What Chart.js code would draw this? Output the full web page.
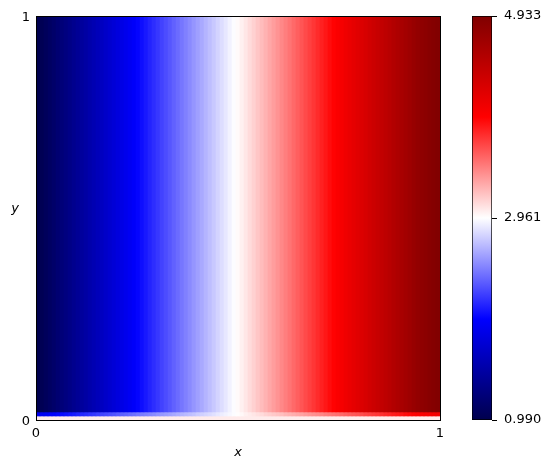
<!DOCTYPE html>
<html>
<head>
<meta charset="utf-8">
<script src="https://cdn.jsdelivr.net/npm/chart.js@4/dist/chart.umd.min.js"></script>
<style>
html,body{margin:0;padding:0;background:#fff;}
#wrap{position:relative;width:551px;height:470px;}
#main{position:absolute;left:0;top:0;}
#cbar{position:absolute;left:440px;top:0;}
</style>
</head>
<body>
<div id="wrap">
<canvas id="main" width="551" height="470"></canvas>
<canvas id="cbar" width="111" height="470"></canvas>
</div>
<script>
// ---- data ----
// column values (left -> right), main body of the field
const columnValues = [
1.00,1.03,1.07,1.11,1.15,1.19,1.23,1.27,1.31,1.35,
1.39,1.43,1.47,1.51,1.55,1.59,1.63,1.67,1.71,1.75,
1.79,1.83,1.87,1.91,1.95,1.99,2.03,2.07,2.11,2.15,
2.19,2.23,2.27,2.31,2.35,2.39,2.43,2.47,2.51,2.55,
2.59,2.63,2.67,2.71,2.75,2.79,2.83,2.87,2.91,2.95,
2.98,3.02,3.06,3.10,3.14,3.18,3.22,3.26,3.30,3.34,
3.38,3.42,3.46,3.50,3.54,3.58,3.62,3.66,3.70,3.74,
3.78,3.82,3.86,3.90,3.94,3.98,4.02,4.06,4.10,4.14,
4.18,4.22,4.26,4.30,4.34,4.38,4.42,4.46,4.50,4.54,
4.58,4.62,4.66,4.70,4.74,4.78,4.81,4.84,4.87,4.89,
4.91
];
// second row from the bottom
const nearBottomRow = [
1.88,1.90,1.92,1.94,1.96,1.99,2.01,2.03,2.05,2.07,
2.10,2.12,2.14,2.16,2.18,2.21,2.23,2.25,2.27,2.29,
2.32,2.34,2.36,2.38,2.40,2.43,2.45,2.47,2.49,2.51,
2.54,2.56,2.58,2.60,2.62,2.65,2.67,2.69,2.71,2.73,
2.76,2.78,2.80,2.82,2.84,2.87,2.89,2.91,2.93,2.95,
2.97,2.99,3.02,3.04,3.06,3.08,3.10,3.13,3.15,3.17,
3.19,3.21,3.24,3.26,3.28,3.30,3.32,3.35,3.37,3.39,
3.41,3.43,3.46,3.48,3.50,3.52,3.54,3.57,3.59,3.61,
3.63,3.65,3.68,3.70,3.72,3.74,3.76,3.79,3.81,3.83,
3.85,3.87,3.90,3.92,3.94,3.96,3.98,3.99,4.01,4.02,
4.03
];
// bottom boundary row (pale pink strip)
const bottomRow = [
3.04,3.04,3.04,3.04,3.04,3.04,3.04,3.04,3.04,3.04,
3.04,3.04,3.04,3.04,3.04,3.04,3.04,3.04,3.04,3.04,
3.04,3.04,3.04,3.04,3.04,3.04,3.04,3.04,3.04,3.04,
3.04,3.04,3.04,3.04,3.04,3.04,3.04,3.04,3.04,3.04,
3.04,3.04,3.04,3.04,3.04,3.04,3.04,3.04,3.04,3.04,
3.04,3.04,3.04,3.04,3.04,3.04,3.04,3.04,3.04,3.04,
3.04,3.04,3.04,3.04,3.04,3.04,3.04,3.04,3.04,3.04,
3.04,3.04,3.04,3.04,3.04,3.04,3.04,3.04,3.04,3.04,
3.04,3.04,3.04,3.04,3.04,3.04,3.04,3.04,3.04,3.04,
3.04,3.04,3.04,3.04,3.04,3.04,3.04,3.04,3.04,3.04,
3.04
];
const gridRows = 101;
const xTicks = [0, 1];
const yTicks = [0, 1];
const colorbarTicks = [0.990, 2.961, 4.933];
const xLabel = 'x';
const yLabel = 'y';

// ---- seismic colormap ----
const vmin = colorbarTicks[0], vmax = colorbarTicks[colorbarTicks.length - 1];
const seismicStops = [[0,0,76.5],[0,0,255],[255,255,255],[255,0,0],[127.5,0,0]];
function seismic(v) {
  let t = (v - vmin) / (vmax - vmin);
  t = Math.max(0, Math.min(1, t));
  const s = t * 4;
  const i = Math.min(3, Math.floor(s));
  const f = s - i;
  const a = seismicStops[i], b = seismicStops[i + 1];
  const c = a.map((x, k) => Math.round(x + (b[k] - x) * f));
  return `rgb(${c[0]},${c[1]},${c[2]})`;
}

Chart.defaults.font.family = "'DejaVu Sans', sans-serif";
Chart.defaults.font.size = 13;
Chart.defaults.color = '#000';

const nCols = columnValues.length;
function band(values, lo, hi) {
  return {
    data: values.map((v, i) => ({ x: (i + 0.5) / nCols, y: [lo, hi] })),
    backgroundColor: values.map(seismic),
    borderWidth: 0,
    grouped: false,
    barPercentage: 1,
    categoryPercentage: 1
  };
}

const yTitlePlugin = {
  id: 'yTitle',
  afterDraw(chart) {
    const ctx = chart.ctx;
    ctx.save();
    ctx.font = "italic 13px 'DejaVu Sans', sans-serif";
    ctx.fillStyle = '#000';
    ctx.textAlign = 'center';
    ctx.textBaseline = 'middle';
    ctx.fillText(yLabel, 15, 209);
    ctx.restore();
  }
};

const fixedSize = (w, h) => (scale) => {
  if (w !== null) scale.width = w;
  if (h !== null) scale.height = h;
};

new Chart(document.getElementById('main'), {
  type: 'bar',
  data: {
    datasets: [
      band(columnValues, 2 / gridRows, 1),
      band(nearBottomRow, 1 / gridRows, 2 / gridRows),
      band(bottomRow, 0, 1 / gridRows)
    ]
  },
  plugins: [yTitlePlugin],
  options: {
    responsive: false,
    animation: false,
    devicePixelRatio: 1,
    layout: { padding: { left: 0, right: 111, top: 16, bottom: 0 } },
    plugins: { legend: { display: false }, tooltip: { enabled: false } },
    scales: {
      x: {
        type: 'linear', position: 'bottom', min: 0, max: 1, offset: false,
        afterBuildTicks: (s) => { s.ticks = xTicks.map(v => ({ value: v })); },
        afterFit: fixedSize(null, 50),
        grid: { display: false, drawTicks: false, offset: false },
        border: { display: true, color: '#000', width: 1, z: 1 },
        ticks: { padding: 6, maxRotation: 0, autoSkip: false, callback: (v) => String(v) },
        title: { display: true, text: xLabel, font: { style: 'italic', size: 13 }, padding: { top: 0, bottom: 10 } }
      },
      x2: {
        type: 'linear', position: 'top', min: 0, max: 1, offset: false,
        afterFit: fixedSize(null, 0),
        grid: { display: false, drawTicks: false, offset: false },
        border: { display: true, color: '#000', width: 1, z: 1 },
        ticks: { display: false }
      },
      y: {
        type: 'linear', position: 'left', min: 0, max: 1,
        afterBuildTicks: (s) => { s.ticks = yTicks.map(v => ({ value: v })); },
        afterFit: fixedSize(36, null),
        grid: { display: false, drawTicks: false },
        border: { display: true, color: '#000', width: 1, z: 1 },
        ticks: { padding: 6, labelOffset: 2, autoSkip: false, callback: (v) => String(v) }
      },
      y2: {
        type: 'linear', position: 'right', min: 0, max: 1,
        afterFit: fixedSize(0, null),
        grid: { display: false, drawTicks: false },
        border: { display: true, color: '#000', width: 1, z: 1 },
        ticks: { display: false }
      }
    }
  }
});

// ---- colorbar ----
new Chart(document.getElementById('cbar'), {
  type: 'bar',
  data: {
    labels: ['cb'],
    datasets: [{
      data: [[vmin, vmax]],
      backgroundColor: (c) => {
        const ch = c.chart;
        const area = ch.chartArea;
        if (!area) return '#fff';
        const ys = ch.scales.y;
        const g = ch.ctx.createLinearGradient(0, ys.getPixelForValue(vmin), 0, ys.getPixelForValue(vmax));
        seismicStops.forEach((s, i) => g.addColorStop(i / 4, `rgb(${Math.round(s[0])},${Math.round(s[1])},${Math.round(s[2])})`));
        return g;
      },
      borderColor: '#000',
      borderWidth: 1,
      borderSkipped: false,
      barPercentage: 1,
      categoryPercentage: 1
    }]
  },
  options: {
    responsive: false,
    animation: false,
    devicePixelRatio: 1,
    layout: { padding: { left: 32, right: 0, top: 16, bottom: 50 } },
    plugins: { legend: { display: false }, tooltip: { enabled: false } },
    scales: {
      x: { type: 'category', display: false },
      y: {
        type: 'linear', position: 'right', min: vmin, max: vmax,
        afterBuildTicks: (s) => { s.ticks = colorbarTicks.map(v => ({ value: v })); },
        afterFit: fixedSize(59, null),
        grid: { display: true, drawOnChartArea: false, drawTicks: true, tickLength: 5, color: '#000', lineWidth: 1 },
        border: { display: false },
        ticks: { padding: 7, autoSkip: false, callback: (v) => Number(v).toFixed(3) }
      }
    }
  }
});
</script>
</body>
</html>
